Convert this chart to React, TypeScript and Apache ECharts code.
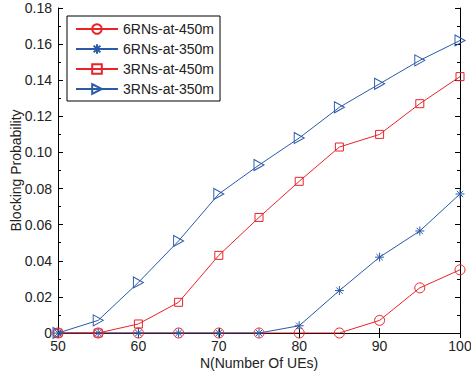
import React, { useEffect, useRef } from "react";
import * as echarts from "echarts";

const xValues = [50, 55, 60, 65, 70, 75, 80, 85, 90, 95, 100];
const seriesNames = ["6RNs-at-450m", "6RNs-at-350m", "3RNs-at-450m", "3RNs-at-350m"];
const rn6at450 = [0, 0, 0, 0, 0, 0, 0, 0, 0.007, 0.025, 0.035];
const rn6at350 = [0, 0, 0, 0, 0, 0, 0.004, 0.0235, 0.042, 0.0565, 0.077];
const rn3at450 = [0, 0, 0.005, 0.017, 0.043, 0.064, 0.084, 0.103, 0.11, 0.127, 0.142];
const rn3at350 = [0, 0.007, 0.028, 0.051, 0.077, 0.093, 0.108, 0.125, 0.138, 0.151, 0.162];

const RED = "#e8232a";
const BLUE = "#2a5aa8";
const FONT = "Liberation Sans";

const STAR = "path://M5,0 L5,10 M0,5 L10,5 M1.5,1.5 L8.5,8.5 M1.5,8.5 L8.5,1.5";
const TRI = "path://M0,0 L9,5 L0,10 Z";

export default function App() {
  const ref = useRef<HTMLDivElement>(null);
  useEffect(() => {
    const chart = echarts.init(ref.current!, null, { renderer: "svg" });
    const mk = (name: string, data: number[], color: string, symbol: string, size: number | number[]) => ({
      name,
      type: "line",
      data: xValues.map((x, i) => [x, data[i]]),
      symbol,
      symbolSize: size,
      showAllSymbol: true,
      lineStyle: { color, width: 1 },
      itemStyle: { color: "rgba(0,0,0,0)", borderColor: color, borderWidth: 1 },
      emphasis: { disabled: true },
    });
    const axisCommon = {
      axisLine: { show: true, lineStyle: { color: "#000", width: 1 } },
      splitLine: { show: false },
    };
    chart.setOption({
      animation: false,
      backgroundColor: "#fff",
      textStyle: { fontFamily: FONT },
      grid: { left: 58, right: 11, top: 8, bottom: 44, outerBoundsMode: "none", containLabel: false },
      legend: {
        orient: "vertical",
        left: 67,
        top: 16,
        data: seriesNames,
        backgroundColor: "#fff",
        borderColor: "#000",
        borderWidth: 1,
        borderRadius: 0,
        padding: [6, 6, 5, 8],
        itemWidth: 42,
        itemHeight: 12,
        itemGap: 6,
        textStyle: { fontFamily: FONT, fontSize: 14, color: "#222" },
      },
      xAxis: [
        {
          ...axisCommon,
          type: "value",
          min: 50,
          max: 100,
          interval: 10,
          name: "N(Number Of UEs)",
          nameLocation: "middle",
          nameGap: 23,
          nameMoveOverlap: false,
          nameTextStyle: { fontFamily: FONT, fontSize: 14, color: "#222" },
          axisTick: { show: true, inside: true, length: 5, lineStyle: { color: "#000" } },
          axisLabel: { fontFamily: FONT, fontSize: 14, color: "#222", margin: 6 },
        },
        {
          ...axisCommon,
          type: "value",
          position: "top",
          min: 50,
          max: 100,
          interval: 10,
          axisTick: { show: true, inside: true, length: 5, lineStyle: { color: "#000" } },
          axisLabel: { show: false },
        },
      ],
      yAxis: [
        {
          ...axisCommon,
          type: "value",
          min: 0,
          max: 0.18,
          interval: 0.02,
          name: "Blocking Probability",
          nameLocation: "middle",
          nameGap: 35,
          nameMoveOverlap: false,
          nameTextStyle: { fontFamily: FONT, fontSize: 14, color: "#222" },
          axisTick: { show: true, inside: true, length: 5, lineStyle: { color: "#000" } },
          minorTick: { show: true, splitNumber: 2, length: 3, lineStyle: { color: "#000" } },
          axisLabel: {
            fontFamily: FONT,
            fontSize: 14,
            color: "#222",
            margin: 6,
            formatter: (v: number) => (Math.abs(v) < 1e-9 ? "0" : v.toFixed(2)),
          },
        },
        {
          ...axisCommon,
          type: "value",
          position: "right",
          min: 0,
          max: 0.18,
          interval: 0.02,
          axisTick: { show: true, inside: true, length: 5, lineStyle: { color: "#000" } },
          minorTick: { show: true, splitNumber: 2, length: 3, lineStyle: { color: "#000" } },
          axisLabel: { show: false },
        },
      ],
      series: [
        mk(seriesNames[0], rn6at450, RED, "circle", 10),
        mk(seriesNames[1], rn6at350, BLUE, STAR, 9),
        mk(seriesNames[2], rn3at450, RED, "rect", 8),
        mk(seriesNames[3], rn3at350, BLUE, TRI, [10, 11]),
      ],
    });
    return () => chart.dispose();
  }, []);
  return <div ref={ref} style={{ width: 471, height: 377, position: "absolute", left: 0, top: 0 }} />;
}
